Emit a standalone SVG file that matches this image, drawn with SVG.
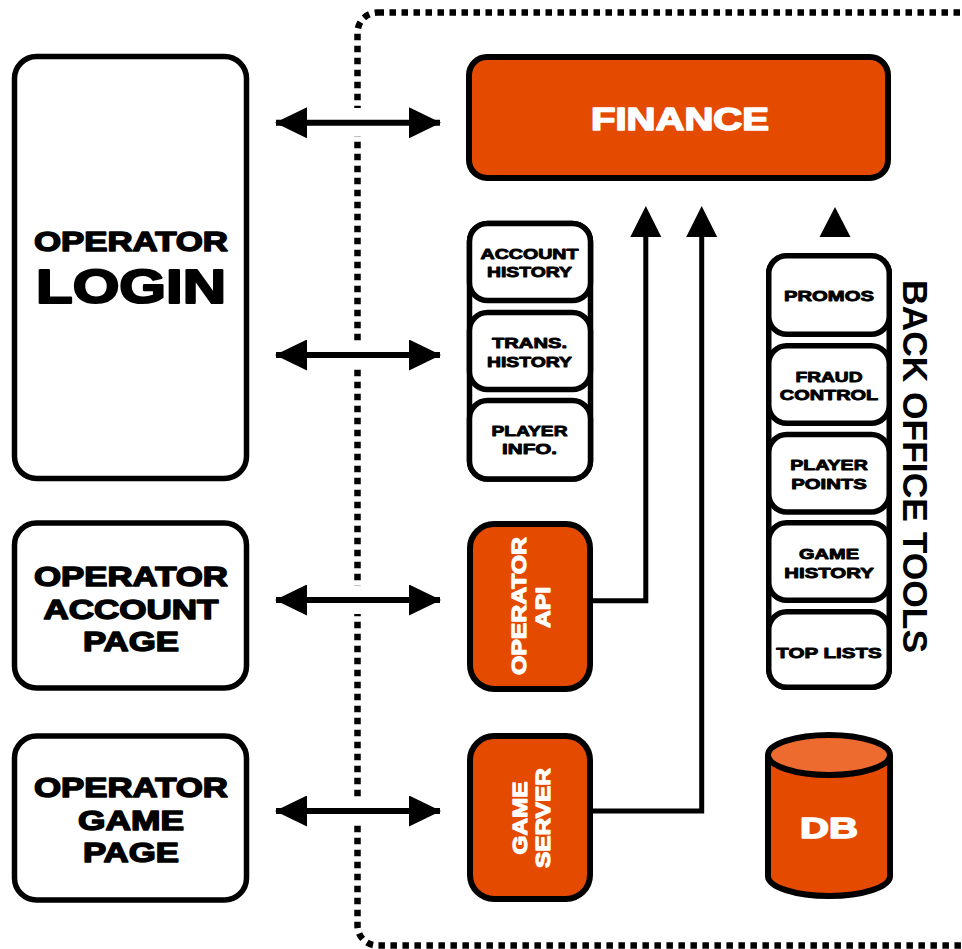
<svg xmlns="http://www.w3.org/2000/svg" width="962" height="949" viewBox="0 0 962 949">
<style>
.box{fill:#fff;stroke:#000;stroke-width:5.5}
.obox{fill:#E54B00;stroke:#000;stroke-width:6}
.t{font-family:"Liberation Sans",Arial,sans-serif;font-weight:700;fill:#000;stroke:#000;text-anchor:middle;stroke-linejoin:round}
.w{fill:#fff;stroke:#fff}
.s{font-size:15px;stroke-width:0.9}
.m{font-size:28px;stroke-width:1.5}
.line{fill:none;stroke:#000;stroke-width:5}
.dbl{fill:none;stroke:#000;stroke-width:6}
.head{fill:#000}
</style>
<defs>
<marker id="ah" viewBox="0 0 32 31" refX="31" refY="15.5" markerWidth="32" markerHeight="31" markerUnits="userSpaceOnUse" orient="auto-start-reverse">
<path d="M0,0 L32,15.5 L0,31 Z" fill="#000"/>
</marker>
</defs>
<rect width="962" height="949" fill="#fff"/>
<g id="boundary">
<rect x="357.5" y="12.5" width="700" height="933" rx="20" fill="none" stroke="#000" stroke-width="6.5" stroke-dasharray="6.5 5.5"/>
</g>
<g id="connectors">
<rect x="349" y="108" width="18" height="28" fill="#fff"/>
<rect x="349" y="341" width="18" height="28" fill="#fff"/>
<rect x="349" y="586" width="18" height="28" fill="#fff"/>
<rect x="349" y="797" width="18" height="28" fill="#fff"/>
<line class="dbl" x1="276" y1="122.8" x2="440" y2="122.8" marker-start="url(#ah)" marker-end="url(#ah)"/>
<line class="dbl" x1="276" y1="355" x2="440" y2="355" marker-start="url(#ah)" marker-end="url(#ah)"/>
<line class="dbl" x1="276" y1="600" x2="440" y2="600" marker-start="url(#ah)" marker-end="url(#ah)"/>
<line class="dbl" x1="276" y1="811" x2="440" y2="811" marker-start="url(#ah)" marker-end="url(#ah)"/>
<path class="line" d="M592,600.8 H645.8 V236"/>
<path class="head" d="M645.8,206 L661.3,237 L630.3,237 Z"/>
<path class="line" d="M592,811 H701.7 V236"/>
<path class="head" d="M701.7,206 L717.2,237 L686.2,237 Z"/>
<path class="head" d="M835,207 L850.5,237 L819.5,237 Z"/>
</g>
<g id="operator-login">
<rect class="box" x="14.5" y="56.5" width="232" height="422" rx="22"/>
<text class="t m" x="131" y="251" textLength="194" lengthAdjust="spacingAndGlyphs">OPERATOR</text>
<text class="t" x="131" y="303" font-size="49" stroke-width="2.2" textLength="190" lengthAdjust="spacingAndGlyphs">LOGIN</text>
</g>
<g id="operator-account-page">
<rect class="box" x="14.5" y="523" width="232" height="165" rx="22"/>
<text class="t m" x="131" y="586" textLength="194" lengthAdjust="spacingAndGlyphs">OPERATOR</text>
<text class="t m" x="131" y="619" textLength="175" lengthAdjust="spacingAndGlyphs">ACCOUNT</text>
<text class="t m" x="131" y="651" textLength="96" lengthAdjust="spacingAndGlyphs">PAGE</text>
</g>
<g id="operator-game-page">
<rect class="box" x="14.5" y="736" width="232" height="164" rx="22"/>
<text class="t m" x="131" y="797" textLength="194" lengthAdjust="spacingAndGlyphs">OPERATOR</text>
<text class="t m" x="131" y="830" textLength="106" lengthAdjust="spacingAndGlyphs">GAME</text>
<text class="t m" x="131" y="862" textLength="96" lengthAdjust="spacingAndGlyphs">PAGE</text>
</g>
<g id="finance">
<rect class="obox" x="469" y="57" width="419" height="121" rx="18"/>
<text class="t w" x="680" y="129.5" font-size="32" stroke-width="1.6" textLength="178" lengthAdjust="spacingAndGlyphs">FINANCE</text>
</g>
<g id="player-stack">
<rect class="box" x="469.5" y="223.5" width="121" height="255.5" rx="18"/>
<g id="account-history">
<rect class="box" x="469.5" y="223.5" width="121" height="77" rx="18"/>
<text class="t s" x="529.5" y="258.5" textLength="98" lengthAdjust="spacingAndGlyphs">ACCOUNT</text>
<text class="t s" x="529.5" y="277.3" textLength="85" lengthAdjust="spacingAndGlyphs">HISTORY</text>
</g>
<g id="trans-history">
<rect class="box" x="469.5" y="312.5" width="121" height="77" rx="18"/>
<text class="t s" x="529.5" y="347.7" textLength="75" lengthAdjust="spacingAndGlyphs">TRANS.</text>
<text class="t s" x="529.5" y="366.7" textLength="85" lengthAdjust="spacingAndGlyphs">HISTORY</text>
</g>
<g id="player-info">
<rect class="box" x="469.5" y="400.5" width="121" height="78.5" rx="18"/>
<text class="t s" x="529.5" y="435.7" textLength="76" lengthAdjust="spacingAndGlyphs">PLAYER</text>
<text class="t s" x="529.5" y="454.3" textLength="55" lengthAdjust="spacingAndGlyphs">INFO.</text>
</g>
</g>
<g id="operator-api">
<rect class="obox" x="470" y="524" width="120" height="165" rx="24"/>
<text class="t w" transform="translate(526,606) rotate(-90)" font-size="21" stroke-width="1.2" textLength="138" lengthAdjust="spacingAndGlyphs">OPERATOR</text>
<text class="t w" transform="translate(550,607.5) rotate(-90)" font-size="21" stroke-width="1.2" textLength="41" lengthAdjust="spacingAndGlyphs">API</text>
</g>
<g id="game-server">
<rect class="obox" x="470" y="736" width="120" height="163" rx="24"/>
<text class="t w" transform="translate(527,818) rotate(-90)" font-size="21" stroke-width="1.2" textLength="73" lengthAdjust="spacingAndGlyphs">GAME</text>
<text class="t w" transform="translate(550,818) rotate(-90)" font-size="21" stroke-width="1.2" textLength="100" lengthAdjust="spacingAndGlyphs">SERVER</text>
</g>
<g id="back-office-tools">
<rect class="box" x="768.75" y="255.75" width="120.5" height="431.5" rx="18"/>
<g id="promos">
<rect class="box" x="768.75" y="255.75" width="120.5" height="78.5" rx="18"/>
<text class="t s" x="829" y="301" textLength="90" lengthAdjust="spacingAndGlyphs">PROMOS</text>
</g>
<g id="fraud-control">
<rect class="box" x="768.75" y="345.75" width="120.5" height="77.5" rx="18"/>
<text class="t s" x="829" y="381.5" textLength="67" lengthAdjust="spacingAndGlyphs">FRAUD</text>
<text class="t s" x="829" y="400" textLength="98.5" lengthAdjust="spacingAndGlyphs">CONTROL</text>
</g>
<g id="player-points">
<rect class="box" x="768.75" y="434.5" width="120.5" height="77.5" rx="18"/>
<text class="t s" x="829" y="470" textLength="77.5" lengthAdjust="spacingAndGlyphs">PLAYER</text>
<text class="t s" x="829" y="489" textLength="75.5" lengthAdjust="spacingAndGlyphs">POINTS</text>
</g>
<g id="game-history">
<rect class="box" x="768.75" y="522.75" width="120.5" height="77.5" rx="18"/>
<text class="t s" x="829" y="559" textLength="60" lengthAdjust="spacingAndGlyphs">GAME</text>
<text class="t s" x="829" y="578" textLength="89.5" lengthAdjust="spacingAndGlyphs">HISTORY</text>
</g>
<g id="top-lists">
<rect class="box" x="768.75" y="611.75" width="120.5" height="75.5" rx="18"/>
<text class="t s" x="829" y="657.5" textLength="105.5" lengthAdjust="spacingAndGlyphs">TOP LISTS</text>
</g>
<text class="t" transform="translate(903,466.5) rotate(90)" font-size="35" stroke-width="0" textLength="373" lengthAdjust="spacingAndGlyphs">BACK OFFICE TOOLS</text>
</g>
<g id="db">
<path d="M768,755 V876 A61,20 0 0 0 890,876 V755" fill="#E54B00" stroke="#000" stroke-width="6"/>
<ellipse cx="829" cy="755" rx="61" ry="20" fill="#EE6B30" stroke="#000" stroke-width="6"/>
<text class="t w" x="829" y="838" font-size="29" stroke-width="1.5" textLength="58" lengthAdjust="spacingAndGlyphs">DB</text>
</g>
</svg>
